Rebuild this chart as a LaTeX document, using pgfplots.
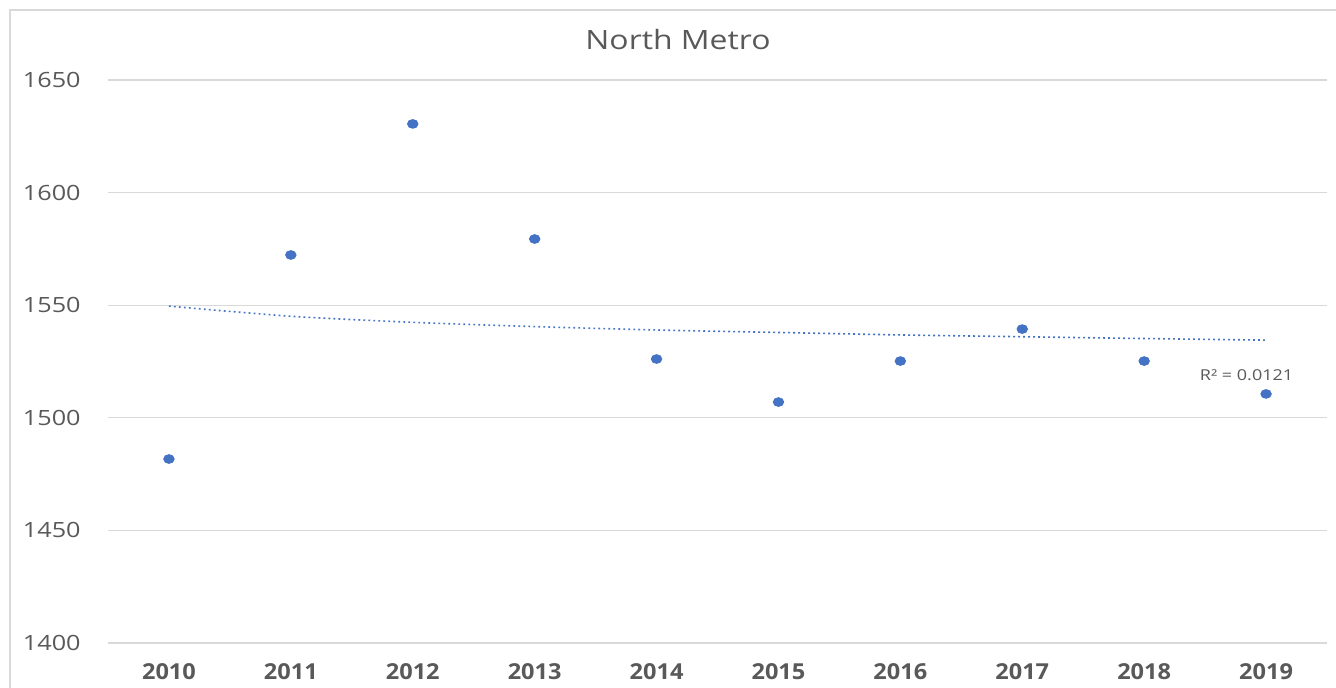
\documentclass[border=0pt]{standalone}
\usepackage{pgfplots}
\pgfplotsset{compat=1.18}
\usepackage{fontspec}
\setmainfont{Open Sans}
\usepackage{graphicx}
\definecolor{ptblue}{HTML}{4472C4}
\definecolor{txtgray}{HTML}{595959}
\definecolor{gridgray}{HTML}{D9D9D9}
\pgfplotstableread{
year value
2010 1481.7
2011 1572.3
2012 1630.5
2013 1579.4
2014 1526.1
2015 1507.0
2016 1525.2
2017 1539.4
2018 1525.2
2019 1510.6
}\pointdata
\pgfplotstableread{
year trend
2010 1549.6
2011 1545.1
2012 1542.4
2013 1540.5
2014 1539.0
2015 1537.9
2016 1536.8
2017 1536.0
2018 1535.2
2019 1534.5
}\trenddata
\begin{document}
\begin{tikzpicture}[x=1pt,y=1pt]
\clip (0,0) rectangle (668,343.5);
\fill[white] (0,0) rectangle (668,343.5);
\draw[gridgray, line width=0.7pt] (5,-5) rectangle (700,338.5);
\begin{axis}[
  at={(54pt,22pt)}, anchor=south west, scale only axis,
  width=609.5pt, height=281.5pt,
  xmin=2009.5, xmax=2019.5, ymin=1400, ymax=1650,
  axis line style={draw=none},
  major tick length=0pt,
  tick style={draw=none},
  ymajorgrids, grid style={gridgray, line width=0.6pt},
  xtick={2010,2011,2012,2013,2014,2015,2016,2017,2018,2019},
  xticklabels={2010,2011,2012,2013,2014,2015,2016,2017,2018,2019},
  ytick={1400,1450,1500,1550,1600,1650},
  yticklabels={1400,1450,1500,1550,1600,1650},
  yticklabel style={font=\fontsize{10.5}{12}\selectfont, text=txtgray, anchor=east, inner sep=0pt, xshift=-13.5pt},
  xticklabel style={font=\bfseries\fontsize{11}{13}\selectfont, text=txtgray, anchor=center, inner sep=0pt, yshift=-14.5pt},
  xticklabel={\scalebox{1.07}[1]{\textbf{\pgfplotstablegetelem{0}{year}\of\pointdata\pgfmathparse{int(\tick)}\pgfmathresult}}},
  yticklabel={\scalebox{1.2}[1]{\pgfmathprintnumber[assume math mode=true,1000 sep={}]{\tick}}},
  clip=false,
]
\addplot[ptblue, line width=0.8pt, dash pattern=on 0.9pt off 1.6pt, smooth] table[x=year, y=trend] {\trenddata};
\addplot[only marks, mark=*, mark size=2.2pt, ptblue, mark options={xscale=1.2, draw=ptblue, fill=ptblue}] table[x=year, y=value] {\pointdata};
\node[font=\fontsize{7.5}{9}\selectfont, text=txtgray] at (axis cs:2018.84,1519) {\scalebox{1.2}[1]{R² = 0.0121}};
\end{axis}
\node[font=\fontsize{13.3}{15}\selectfont, text=txtgray] at (339,323.5) {\scalebox{1.2}[1]{North Metro}};
\end{tikzpicture}
\end{document}
